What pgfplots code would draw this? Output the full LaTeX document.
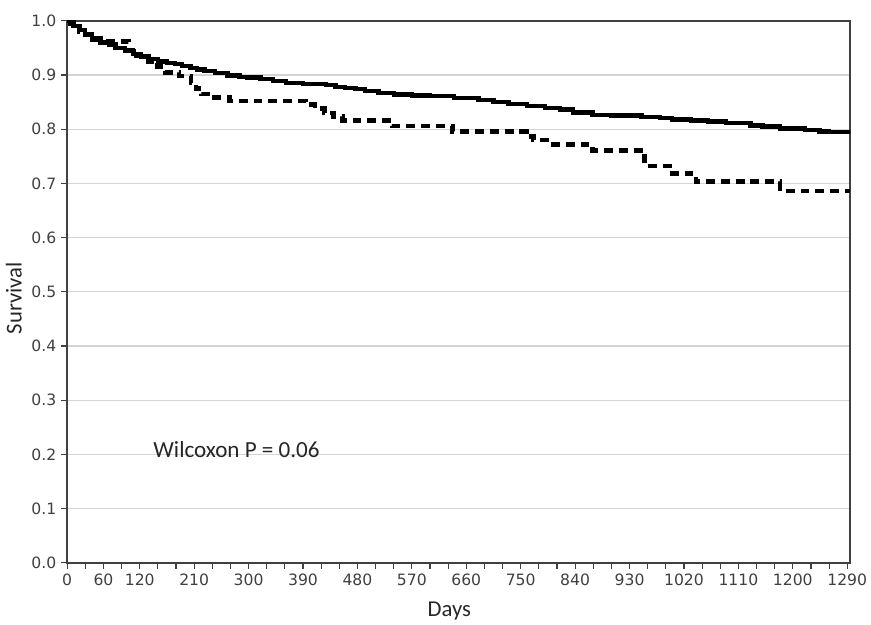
\documentclass[border=0pt]{standalone}
\usepackage{pgfplots}
\pgfplotsset{compat=1.18}
\usepackage{fontspec}
\setmainfont{Carlito}
\newfontfamily\tickfont{DejaVu Sans}

\definecolor{axisgray}{HTML}{404040}
\definecolor{gridgray}{HTML}{D4D4D4}

\begin{document}
\begin{tikzpicture}
\path[use as bounding box] (-34pt,-31pt) rectangle (407pt,285pt);
\begin{axis}[
  at={(0,0)}, anchor=south west,
  scale only axis,
  width=396.5pt, height=274.5pt,
  xmin=0, xmax=1295,
  ymin=0, ymax=1,
  axis line style={axisgray, line width=0.8pt},
  xtick={0,60,120,210,300,390,480,570,660,750,840,930,1020,1110,1200,1290},
  minor xtick={0,30,...,1290},
  ytick={0,0.1,...,1.0},
  xtick pos=bottom, ytick pos=left,
  tick align=outside,
  major tick length=3pt, minor tick length=3pt,
  every tick/.style={axisgray, line width=0.6pt},
  ymajorgrids,
  grid style={gridgray, line width=0.6pt},
  /pgf/number format/assume math mode=true,
  /pgf/number format/fixed,
  /pgf/number format/fixed zerofill,
  yticklabel={\pgfmathprintnumber[precision=1]{\tick}},
  xticklabel={\pgfmathprintnumber[precision=0,fixed zerofill=false,1000 sep={}]{\tick}},
  tick label style={font=\tickfont\fontsize{7.9}{9}\selectfont, text=axisgray},
  xticklabel style={yshift=1pt, inner xsep=1pt},
  yticklabel style={xshift=1pt},
  xlabel={Days}, ylabel={Survival},
  label style={font=\fontsize{11.5}{13}\selectfont, text=black!85},
  xlabel style={at={(ticklabel cs:0.488)}, yshift=-1.5pt},
  ylabel style={at={(ticklabel cs:0.488)}, yshift=-2pt},
]
% group 2 (dashed)
\addplot[const plot, black, line width=2.4pt, dash pattern=on 4.5pt off 3pt] coordinates {
  (0,1.0)(10,0.99)(20,0.98)(30,0.975)(40,0.968)(55,0.962)
  (102,0.945)(115,0.935)(135,0.925)(150,0.915)(162,0.905)(185,0.898)
  (205,0.885)(213,0.875)(222,0.865)(240,0.858)(268,0.852)
  (395,0.845)(410,0.838)(425,0.830)(440,0.823)(455,0.816)
  (537,0.806)(637,0.796)(759,0.786)(771,0.780)(798,0.772)
  (869,0.761)(955,0.732)(996,0.718)(1040,0.703)(1179,0.686)(1295,0.686)
};
% group 1 (solid)
\addplot[const plot, black, line width=2.2pt] coordinates {
  (0,1.0)(5,0.995)(10,0.99)(20,0.983)(30,0.975)(41,0.965)(55,0.96)
  (69,0.956)(80,0.95)(96,0.944)(110,0.939)(122,0.934)(135,0.93)
  (150,0.925)(165,0.922)(178,0.920)(190,0.917)(204,0.913)(215,0.91)
  (227,0.907)(245,0.903)(265,0.899)(285,0.896)(297,0.895)(320,0.892)
  (340,0.889)(362,0.885)(390,0.883)(428,0.881)(444,0.878)(460,0.876)
  (477,0.874)(493,0.871)(515,0.867)(540,0.864)(570,0.862)(600,0.861)
  (640,0.858)(660,0.857)(680,0.854)(705,0.850)(730,0.847)(760,0.843)
  (790,0.839)(815,0.836)(836,0.831)(869,0.826)(900,0.825)(950,0.823)
  (980,0.821)(1000,0.818)(1032,0.816)(1060,0.814)(1090,0.811)
  (1130,0.807)(1150,0.805)(1179,0.801)(1220,0.799)(1244,0.796)
  (1260,0.795)(1295,0.794)
};
\node[anchor=base west, inner sep=0pt, font=\fontsize{11.7}{13}\selectfont, text=black!85]
  at (axis cs:142,0.195) {Wilcoxon P = 0.06};
\end{axis}
\end{tikzpicture}
\end{document}
